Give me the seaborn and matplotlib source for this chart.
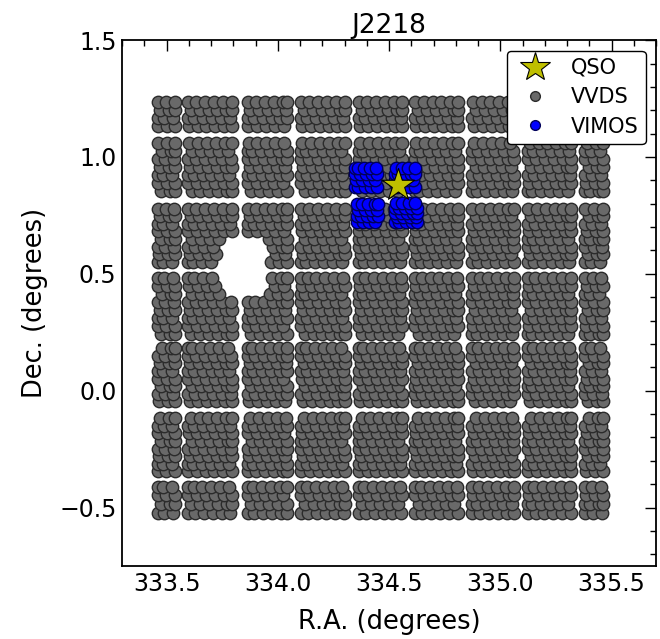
import numpy as np
import pandas as pd
import matplotlib
matplotlib.use("Agg")
import matplotlib.pyplot as plt
import seaborn as sns
from matplotlib.lines import Line2D

# VVDS pointing strips: RA / Dec extents of the target centres
col_ra_lo = [333.462, 333.598, 333.865, 334.105, 334.363, 334.616, 334.875, 335.123, 335.381]
col_ra_hi = [333.539, 333.793, 334.042, 334.300, 334.557, 334.811, 335.060, 335.318, 335.463]
row_dec_lo = [1.131, 0.856, 0.551, 0.243, -0.045, -0.345, -0.521]
row_dec_hi = [1.234, 1.062, 0.779, 0.483, 0.182, -0.118, -0.410]

# area of the field without VVDS targets
hole_ra = [333.735, 333.961]
hole_dec = [0.393, 0.650]

# VIMOS quadrants around the quasar
vimos_ra_lo = [334.345, 334.526, 334.354, 334.526]
vimos_ra_hi = [334.444, 334.617, 334.449, 334.625]
vimos_dec_lo = [0.873, 0.873, 0.720, 0.720]
vimos_dec_hi = [0.955, 0.955, 0.800, 0.805]

qso_ra = [334.538]
qso_dec = [0.882]

title = "J2218"

GOLDEN = 0.6180339887


def fill_footprint(ra0, ra1, dec0, dec1, step_ra, step_dec, k_start=0):
    """Rows of slit positions across one footprint; each row slides by the
    golden fraction of a step, and rows always reach both footprint edges."""
    ny = max(int(round((dec1 - dec0) / step_dec)), 1) + 1
    pts = []
    for i, d in enumerate(np.linspace(dec0, dec1, ny)):
        shift = (((k_start + i) * GOLDEN) % 1.0) * step_ra
        xs = list(np.arange(ra0 + shift, ra1 + 1e-9, step_ra))
        if not xs or xs[0] - ra0 > 0.45 * step_ra:
            xs.insert(0, ra0)
        if ra1 - xs[-1] > 0.45 * step_ra:
            xs.append(ra1)
        pts.extend((x, d) for x in xs)
    return pts, ny


vvds, k = [], 0
for x0, x1 in zip(col_ra_lo, col_ra_hi):
    for y0, y1 in zip(row_dec_lo, row_dec_hi):
        p, n = fill_footprint(x0, x1, y0, y1, 0.040, 0.033, k)
        vvds.extend(p)
        k += n + 3
vvds = pd.DataFrame(vvds, columns=["ra", "dec"])
in_hole = vvds.ra.between(*hole_ra) & vvds.dec.between(*hole_dec)
vvds = vvds[~in_hole]

vimos, k = [], 1
for x0, x1, y0, y1 in zip(vimos_ra_lo, vimos_ra_hi, vimos_dec_lo, vimos_dec_hi):
    p, n = fill_footprint(x0, x1, y0, y1, 0.028, 0.024, k)
    vimos.extend(p)
    k += n + 2
vimos = pd.DataFrame(vimos, columns=["ra", "dec"])

qso = pd.DataFrame({"ra": qso_ra, "dec": qso_dec})

sns.set_style("white")
plt.rcParams["font.family"] = ["DejaVu Sans"]
plt.rcParams.update({"text.color": "black", "axes.labelcolor": "black",
                     "xtick.color": "black", "ytick.color": "black"})

fig = plt.figure(figsize=(6.6, 6.39), dpi=100)
ax = fig.add_axes([0.185, 0.1142, 0.809, 0.823])

grey_face = (0.41, 0.41, 0.41)
grey_edge = (0.17, 0.17, 0.17)
star_col = (0.75, 0.75, 0.0)

sns.scatterplot(data=vvds, x="ra", y="dec", ax=ax, s=80, color=grey_face,
                edgecolor=grey_edge, linewidth=1.0, legend=False, zorder=2)
sns.scatterplot(data=vimos, x="ra", y="dec", ax=ax, s=80, color=(0, 0, 1),
                edgecolor=(0, 0, 0.35), linewidth=1.0, legend=False, zorder=3)
sns.scatterplot(data=qso, x="ra", y="dec", ax=ax, s=600, marker="*",
                color=star_col, edgecolor="black", linewidth=0.8,
                legend=False, zorder=4)

ax.set_xlim(333.3, 335.7)
ax.set_ylim(-0.75, 1.5)
ax.set_xticks([333.5, 334.0, 334.5, 335.0, 335.5])
ax.set_yticks([-0.5, 0.0, 0.5, 1.0, 1.5])
ax.set_xticks(np.arange(333.3, 335.71, 0.1), minor=True)
ax.set_yticks(np.arange(-0.7, 1.51, 0.1), minor=True)
ax.set_xticklabels(["333.5", "334.0", "334.5", "335.0", "335.5"])
ax.set_yticklabels(["\u22120.5", "0.0", "0.5", "1.0", "1.5"])
ax.tick_params(which="both", direction="in", top=True, right=True,
               color="black", width=1.0)
ax.tick_params(which="major", length=8, labelsize=17, pad=4)
ax.tick_params(which="minor", length=4)
for sp in ax.spines.values():
    sp.set_color("black")
    sp.set_linewidth(1.3)

ax.set_xlabel("R.A. (degrees)", fontsize=18.5, labelpad=10)
ax.set_ylabel("Dec. (degrees)", fontsize=18.5, labelpad=8)
ax.set_title(title, fontsize=19, pad=5)

handles = [
    Line2D([], [], ls="none", marker="*", ms=22, mfc=star_col, mec="black", mew=0.8),
    Line2D([], [], ls="none", marker="o", ms=7, mfc=grey_face, mec=grey_edge, mew=1.0),
    Line2D([], [], ls="none", marker="o", ms=7, mfc=(0, 0, 1), mec=(0, 0, 0.35), mew=1.0),
]
leg = ax.legend(handles, ["QSO", "VVDS", "VIMOS"], loc="upper right",
                fontsize=15, frameon=True, fancybox=True, framealpha=1,
                edgecolor="black", borderaxespad=0.5, handletextpad=0.7,
                labelspacing=0.45, borderpad=0.35, numpoints=1)
leg.get_frame().set_linewidth(1.0)
leg.set_zorder(10)

fig.savefig("out.png", dpi=100)
